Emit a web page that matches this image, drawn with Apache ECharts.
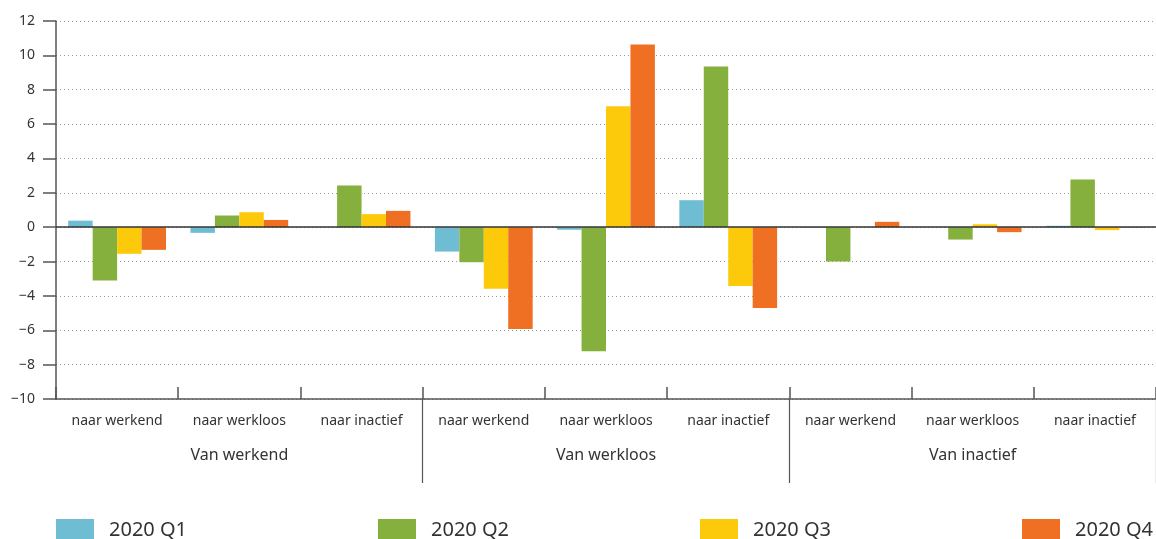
<!DOCTYPE html>
<html>
<head>
<meta charset="utf-8">
<script src="https://cdn.jsdelivr.net/npm/echarts@6/dist/echarts.min.js"></script>
<style>
  html, body { margin: 0; padding: 0; background: #fff; }
  #chart { width: 1156px; height: 539px; }
</style>
</head>
<body>
<div id="chart"></div>
<script>
  // categorieen: eerste en tweede niveau
  const subCategories = [
    'naar werkend', 'naar werkloos', 'naar inactief',
    'naar werkend', 'naar werkloos', 'naar inactief',
    'naar werkend', 'naar werkloos', 'naar inactief'
  ];
  const groupCategories = ['Van werkend', 'Van werkloos', 'Van inactief'];
  const seriesNames = ['2020 Q1', '2020 Q2', '2020 Q3', '2020 Q4'];

  const q1 = [0.38, -0.33, 0, -1.42, -0.15, 1.57, -0.03, 0, 0.08];
  const q2 = [-3.1, 0.68, 2.42, -2.04, -7.22, 9.35, -2.0, -0.72, 2.77];
  const q3 = [-1.55, 0.87, 0.76, -3.59, 7.04, -3.43, 0, 0.17, -0.17];
  const q4 = [-1.32, 0.42, 0.95, -5.92, 10.63, -4.71, 0.31, -0.29, -0.02];

  const colors = ['#6fbdd2', '#86b03d', '#fdca0b', '#f07023'];
  const legendLeft = [56, 378, 700, 1022]; // positie van elk legenda-item
  const font = 'Noto Sans';

  const chart = echarts.init(document.getElementById('chart'));

  const values = [q1, q2, q3, q4];
  const series = values.map((d, i) => {
    const s = {
      name: seriesNames[i],
      type: 'bar',
      data: d,
      xAxisIndex: 0,
      yAxisIndex: 0,
      barGap: 0,
      barCategoryGap: '20%',
      itemStyle: { color: colors[i] }
    };
    if (i === 0) {
      // nullijn
      s.markLine = {
        silent: true,
        symbol: 'none',
        label: { show: false },
        lineStyle: { color: '#333', width: 1.5, type: 'solid' },
        data: [{ yAxis: 0 }]
      };
    }
    return s;
  });

  // elk legenda-item apart, zo staan ze verspreid over de breedte
  const legends = seriesNames.map((name, i) => ({
    left: legendLeft[i],
    top: 519,
    padding: 0,
    itemWidth: 38,
    itemHeight: 22,
    icon: 'rect',
    textStyle: { fontSize: 20, color: '#333', fontFamily: font, padding: [0, 0, 0, 10] },
    data: [name]
  }));

  const option = {
    animation: false,
    textStyle: { fontFamily: font },
    color: colors,
    legend: legends,
    grid: [
      { left: 56, right: 0, top: 21, bottom: 140 },
      { left: 56, right: -3, top: 398, height: 1 }
    ],
    xAxis: [
      {
        type: 'category',
        gridIndex: 0,
        data: subCategories,
        axisLine: { onZero: false, lineStyle: { color: '#555', width: 1.5 } },
        axisTick: { show: true, inside: true, length: 12, interval: 0, lineStyle: { color: '#555', width: 1.5 } },
        axisLabel: { interval: 0, margin: 15, fontSize: 14, color: '#333' }
      },
      {
        type: 'category',
        gridIndex: 1,
        data: groupCategories,
        axisLine: { show: false },
        axisTick: {
          show: true,
          length: 84,
          interval: (idx) => idx > 0,
          lineStyle: { color: '#555', width: 1.2 }
        },
        axisLabel: { interval: 0, margin: 48, fontSize: 16, color: '#333' }
      }
    ],
    yAxis: [
      {
        type: 'value',
        gridIndex: 0,
        min: -10,
        max: 12,
        interval: 2,
        axisLine: { show: true, lineStyle: { color: '#555', width: 1.5 } },
        axisTick: { show: true, length: 13, lineStyle: { color: '#555', width: 1.5 } },
        axisLabel: {
          fontSize: 14,
          color: '#333',
          margin: 21,
          formatter: (v) => String(v).replace('-', '\u2212')
        },
        splitLine: { show: true, lineStyle: { color: '#999', type: [1, 3], width: 1 } }
      },
      { type: 'value', gridIndex: 1, show: false }
    ],
    series: series
  };

  chart.setOption(option);
</script>
</body>
</html>
